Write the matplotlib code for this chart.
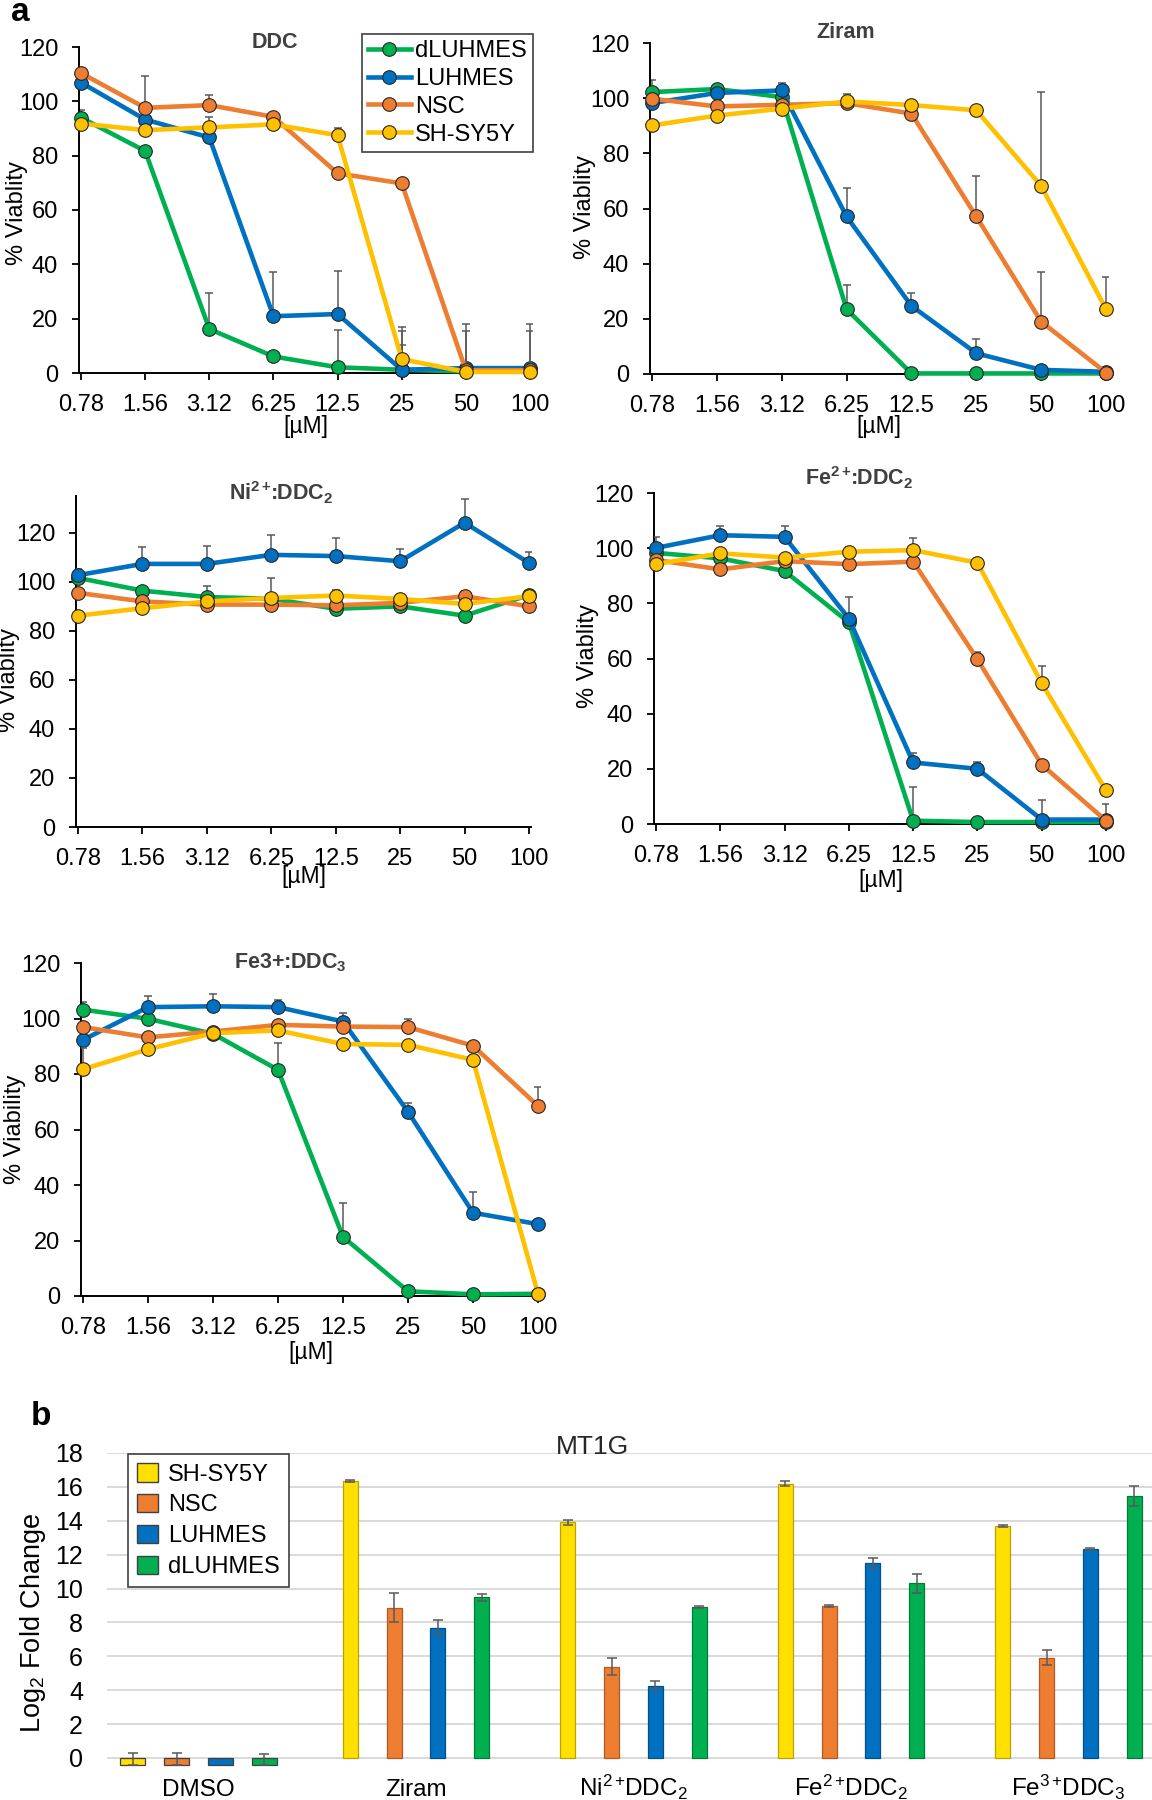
import numpy as np
import matplotlib
matplotlib.use('Agg')
import matplotlib.pyplot as plt
from matplotlib.lines import Line2D
from matplotlib.patches import Patch
import matplotlib.transforms as mtransforms

plt.rcParams['font.family'] = ['Liberation Sans', 'DejaVu Sans']
plt.rcParams['mathtext.fontset'] = 'custom'
plt.rcParams['mathtext.rm'] = 'Liberation Sans'
plt.rcParams['mathtext.it'] = 'Liberation Sans:italic'
plt.rcParams['mathtext.bf'] = 'Liberation Sans:bold'
plt.rcParams['mathtext.default'] = 'regular'

# ---- panel a: viability curves ----
conc = ['0.78', '1.56', '3.12', '6.25', '12.5', '25', '50', '100']
cells = ['dLUHMES', 'LUHMES', 'NSC', 'SH-SY5Y']
line_colors = ['#00B050', '#0070C0', '#ED7D31', '#FFC000']

ddc_dluhmes = [94.0, 81.7, 16.2, 6.1, 2.1, 1.2, 0.6, 0.6]
ddc_luhmes = [106.9, 93.3, 86.7, 20.9, 21.7, 1.2, 1.8, 1.8]
ddc_nsc = [110.4, 97.6, 98.6, 94.3, 73.5, 69.8, 1.0, 1.0]
ddc_shsy5y = [91.8, 89.4, 90.4, 91.5, 87.5, 5.1, 0.4, 0.4]
ddc_err_dluhmes = [2.7, 0, 13.2, 0, 13.8, 14.1, 0, 0]
ddc_err_luhmes = [0, 0, 7.6, 16.1, 16.0, 9.0, 16.2, 16.2]
ddc_err_nsc = [0, 11.7, 3.9, 0, 0, 0, 14.3, 14.3]
ddc_err_shsy5y = [0, 0, 0, 0, 2.7, 12.0, 0, 0]

zir_dluhmes = [102.2, 103.3, 100.4, 23.5, 0.2, 0.2, 0.2, 0.2]
zir_luhmes = [98.2, 101.9, 102.8, 57.1, 24.7, 7.5, 1.5, 0.8]
zir_nsc = [99.8, 97.0, 97.6, 98.2, 94.4, 57.1, 19.0, 0.5]
zir_shsy5y = [90.1, 93.7, 96.2, 98.8, 97.5, 95.6, 68.2, 23.5]
zir_err_dluhmes = [4.5, 0, 0, 8.7, 0, 0, 0, 0]
zir_err_luhmes = [0, 0, 2.7, 10.3, 4.6, 5.2, 0, 0]
zir_err_nsc = [0, 0, 0, 3.4, 0, 14.8, 17.9, 0]
zir_err_shsy5y = [0, 0, 0, 0, 0, 0, 33.9, 11.6]

ni_dluhmes = [101.6, 96.4, 93.8, 93.1, 89.0, 90.0, 86.2, 94.6]
ni_luhmes = [102.7, 107.3, 107.3, 111.0, 110.5, 108.4, 124.1, 107.7]
ni_nsc = [95.5, 92.0, 90.7, 90.7, 90.4, 91.4, 94.1, 90.0]
ni_shsy5y = [86.2, 89.2, 92.0, 93.4, 94.4, 93.0, 91.0, 94.1]
ni_err_dluhmes = [0, 0, 4.4, 8.5, 0, 0, 0, 0]
ni_err_luhmes = [2.7, 6.8, 7.2, 7.9, 7.5, 4.8, 9.8, 4.4]
ni_err_nsc = [0, 0, 0, 0, 0, 0, 2.0, 0]
ni_err_shsy5y = [0, 0, 0, 0, 2.4, 0, 0, 0]

fe2_dluhmes = [98.3, 96.3, 91.7, 73.1, 1.2, 0.7, 0.7, 0.7]
fe2_luhmes = [100.1, 104.7, 104.1, 74.5, 22.3, 20.0, 1.6, 1.6]
fe2_nsc = [95.7, 92.3, 95.3, 94.2, 95.1, 59.7, 21.5, 1.2]
fe2_shsy5y = [94.2, 98.1, 96.6, 98.7, 99.3, 94.7, 51.0, 12.2]
fe2_err_dluhmes = [0, 0, 0, 0, 12.1, 0, 0, 0]
fe2_err_luhmes = [4.0, 3.4, 4.0, 7.9, 3.4, 2.4, 7.2, 5.8]
fe2_err_nsc = [0, 0, 0, 0, 0, 2.8, 0, 0]
fe2_err_shsy5y = [0, 0, 0, 1.8, 4.4, 0, 6.1, 0]

fe3_dluhmes = [103.2, 99.9, 94.5, 81.5, 21.3, 1.7, 0.6, 0.8]
fe3_luhmes = [92.3, 104.1, 104.4, 104.1, 98.9, 66.4, 30.0, 25.9]
fe3_nsc = [96.9, 93.2, 95.3, 97.7, 97.1, 96.9, 90.2, 68.5]
fe3_shsy5y = [81.7, 88.9, 94.7, 95.7, 90.8, 90.5, 85.1, 0.8]
fe3_err_dluhmes = [2.6, 0, 0, 9.6, 12.3, 0, 0, 0]
fe3_err_luhmes = [0, 3.9, 4.4, 2.7, 3.1, 3.1, 7.6, 0]
fe3_err_nsc = [0, 0, 0, 0, 0, 2.9, 0, 6.7]
fe3_err_shsy5y = [7.6, 0, 0, 0, 0, 0, 0, 0]

# ---- panel b: MT1G bars ----
treatments = ['DMSO', 'Ziram', r'Ni$^{2+}\!$DDC$_2$', r'Fe$^{2+}\!$DDC$_2$',
              r'Fe$^{3+}\!$DDC$_3$']
bar_cells = ['SH-SY5Y', 'NSC', 'LUHMES', 'dLUHMES']
mt1g_shsy5y = [-0.39, 16.36, 13.90, 16.19, 13.70]
mt1g_nsc = [-0.39, 8.87, 5.38, 8.99, 5.93]
mt1g_luhmes = [-0.39, 7.69, 4.26, 11.50, 12.32]
mt1g_dluhmes = [-0.39, 9.48, 8.93, 10.31, 15.44]
mt1g_err_shsy5y = [0.70, 0.06, 0.15, 0.13, 0.04]
mt1g_err_nsc = [0.70, 0.85, 0.50, 0.06, 0.45]
mt1g_err_luhmes = [0.0, 0.45, 0.27, 0.28, 0.07]
mt1g_err_dluhmes = [0.60, 0.20, 0.06, 0.55, 0.59]
bar_colors = ['#FFE000', '#ED7D31', '#0070C0', '#00B050']
bar_edges = ['#B8A300', '#B15A22', '#00508A', '#007A38']

W, H = 1152, 1800
fig = plt.figure(figsize=(W / 100, H / 100), dpi=100)


def add_px_axes(left, right, top, bottom):
    return fig.add_axes([left / W, 1 - bottom / H, (right - left) / W, (bottom - top) / H])


def line_panel(cat0, cat7, y0, ytop, ymax, title, tx, ty, ylab, ylx, yly, xly,
               series, errors):
    sp = (cat7 - cat0) / 7.0
    left = cat0 - 0.03 * sp
    wid = sp * 7.06
    ax = add_px_axes(left, left + wid, ytop, y0)
    x = np.arange(len(conc))
    for i, (vals, err) in enumerate(zip(series, errors)):
        vals = np.array(vals)
        err = np.array(err)
        m = err > 0
        ax.errorbar(x[m], vals[m], yerr=[np.zeros(m.sum()), err[m]], fmt='none',
                    ecolor='#595959', elinewidth=1.1, capsize=3, capthick=1.1,
                    zorder=2.5 + i)
        ax.plot(x, vals, '-o', color=line_colors[i], lw=3.3, ms=9.8,
                mec='#262626', mew=0.8, zorder=3 + i, clip_on=False)
    ax.set_xlim(-0.03, 7.03)
    ax.set_ylim(0, ymax)
    ax.set_yticks(np.arange(0, 121, 20))
    ax.set_xticks(x)
    ax.set_xticklabels(conc)
    for s in ['top', 'right']:
        ax.spines[s].set_visible(False)
    for s in ['left', 'bottom']:
        ax.spines[s].set_linewidth(1.4)
    ax.tick_params(axis='x', direction='out', length=5, width=1.3, pad=10, labelsize=17)
    ax.tick_params(axis='y', direction='out', length=5, width=1.3, pad=10, labelsize=17)
    hgt = y0 - ytop
    ax.set_ylabel(ylab, fontsize=17)
    ax.yaxis.label.set_va('center')
    ax.yaxis.set_label_coords((ylx - left) / wid, (y0 - yly) / hgt)
    ax.set_xlabel('[µM]', fontsize=16.5)
    ax.xaxis.label.set_va('center')
    ax.xaxis.set_label_coords(0.5, (y0 - xly) / hgt)
    fig.text(tx / W, 1 - ty / H, title, ha='center', va='center', fontsize=15.5,
             fontweight='bold', color='#404040')
    return ax


line_panel(81, 530, 373, 47, 120, 'DDC', 275, 43, '% Viablity', 17, 213, 427,
           [ddc_dluhmes, ddc_luhmes, ddc_nsc, ddc_shsy5y],
           [ddc_err_dluhmes, ddc_err_luhmes, ddc_err_nsc, ddc_err_shsy5y])
line_panel(652, 1106, 374, 43, 120, 'Ziram', 846, 33, '% Viablity', 585, 207, 427,
           [zir_dluhmes, zir_luhmes, zir_nsc, zir_shsy5y],
           [zir_err_dluhmes, zir_err_luhmes, zir_err_nsc, zir_err_shsy5y])
line_panel(78, 529, 827, 496, 135, r'Ni$^{\mathbf{2+}}\!$:DDC$_{\mathbf{2}}$', 281, 493,
           '% Viablity', 9, 680, 877,
           [ni_dluhmes, ni_luhmes, ni_nsc, ni_shsy5y],
           [ni_err_dluhmes, ni_err_luhmes, ni_err_nsc, ni_err_shsy5y])
line_panel(656, 1106, 824, 493, 120, r'Fe$^{\mathbf{2+}}\!$:DDC$_{\mathbf{2}}$', 859, 478,
           '% Viablity', 588, 656, 880,
           [fe2_dluhmes, fe2_luhmes, fe2_nsc, fe2_shsy5y],
           [fe2_err_dluhmes, fe2_err_luhmes, fe2_err_nsc, fe2_err_shsy5y])
line_panel(83, 538, 1296, 963, 120, r'Fe3+:DDC$_{\mathbf{3}}$', 290, 963,
           '% Viability', 15, 1129, 1352,
           [fe3_dluhmes, fe3_luhmes, fe3_nsc, fe3_shsy5y],
           [fe3_err_dluhmes, fe3_err_luhmes, fe3_err_nsc, fe3_err_shsy5y])

handles = [Line2D([], [], color=c, lw=3.3, marker='o', ms=9.8, mec='#262626', mew=0.8)
           for c in line_colors]
leg = fig.legend(handles, cells, loc='upper right', bbox_to_anchor=(533 / W, 1 - 34 / H),
                 fontsize=17, frameon=True, fancybox=False, framealpha=1,
                 edgecolor='#404040', borderaxespad=0, borderpad=0.25,
                 labelspacing=0.25, handlelength=1.8, handletextpad=0.2)
leg.get_frame().set_linewidth(1.2)

# ---- bar chart ----
gsp = 217.5
bx_left = 106.5
axb = add_px_axes(bx_left, bx_left + 5 * gsp, 1453, 1770.7)
g = np.arange(len(treatments))
bar_vals = [mt1g_shsy5y, mt1g_nsc, mt1g_luhmes, mt1g_dluhmes]
bar_errs = [mt1g_err_shsy5y, mt1g_err_nsc, mt1g_err_luhmes, mt1g_err_dluhmes]
offs = (np.arange(4) - 1.5) * 0.201
widths = np.where(g == 0, 0.115, 0.069)
for i in range(4):
    vals = np.array(bar_vals[i])
    ecs = [('#404040' if k == 0 else bar_edges[i]) for k in g]
    axb.bar(g + offs[i], vals, width=widths, color=bar_colors[i],
            edgecolor=ecs, linewidth=0.9, zorder=3)
    e = np.array(bar_errs[i])
    m = e > 0
    lower = np.where(vals < 0, 0, e)
    axb.errorbar((g + offs[i])[m], vals[m], yerr=[lower[m], e[m]], fmt='none',
                 ecolor='#595959', elinewidth=1.1, capsize=3.5, capthick=1.1, zorder=4)
axb.set_xlim(-0.423, 4.577)
axb.set_ylim(-0.75, 18)
axb.set_yticks(np.arange(0, 19, 2))
axb.set_xticks([])
axb.grid(axis='y', color='#D9D9D9', lw=1.4, zorder=0)
axb.set_axisbelow(True)
for s in axb.spines.values():
    s.set_visible(False)
axb.tick_params(axis='y', length=0, pad=17, labelsize=18)
trans = mtransforms.blended_transform_factory(axb.transData, fig.transFigure)
for i, t in enumerate(treatments):
    axb.text(i, 1 - 1796 / H, t, transform=trans, ha='center', va='baseline', fontsize=17.5)
axb.set_ylabel(r'Log$_2$ Fold Change', fontsize=19.5)
axb.yaxis.label.set_va('center')
axb.yaxis.set_label_coords((33 - bx_left) / (5 * gsp), (1770.7 - 1623) / 317.7)
fig.text(592 / W, 1 - 1447 / H, 'MT1G', ha='center', va='center', fontsize=19,
         color='#262626')

bh = [Patch(facecolor=c, edgecolor='#404040', lw=1.0) for c in bar_colors]
legb = fig.legend(bh, bar_cells, loc='upper left', bbox_to_anchor=(128 / W, 1 - 1454 / H),
                  fontsize=17, frameon=True, fancybox=False, framealpha=1,
                  edgecolor='#404040', borderaxespad=0, borderpad=0.4,
                  labelspacing=0.36, handlelength=0.85, handleheight=0.8,
                  handletextpad=0.45)
legb.get_frame().set_linewidth(1.2)

fig.text(20 / W, 1 - 21 / H, 'a', ha='center', va='baseline', fontsize=24, fontweight='bold')
fig.text(41 / W, 1 - 1425 / H, 'b', ha='center', va='baseline', fontsize=24, fontweight='bold')

fig.savefig('out.png', dpi=100)
